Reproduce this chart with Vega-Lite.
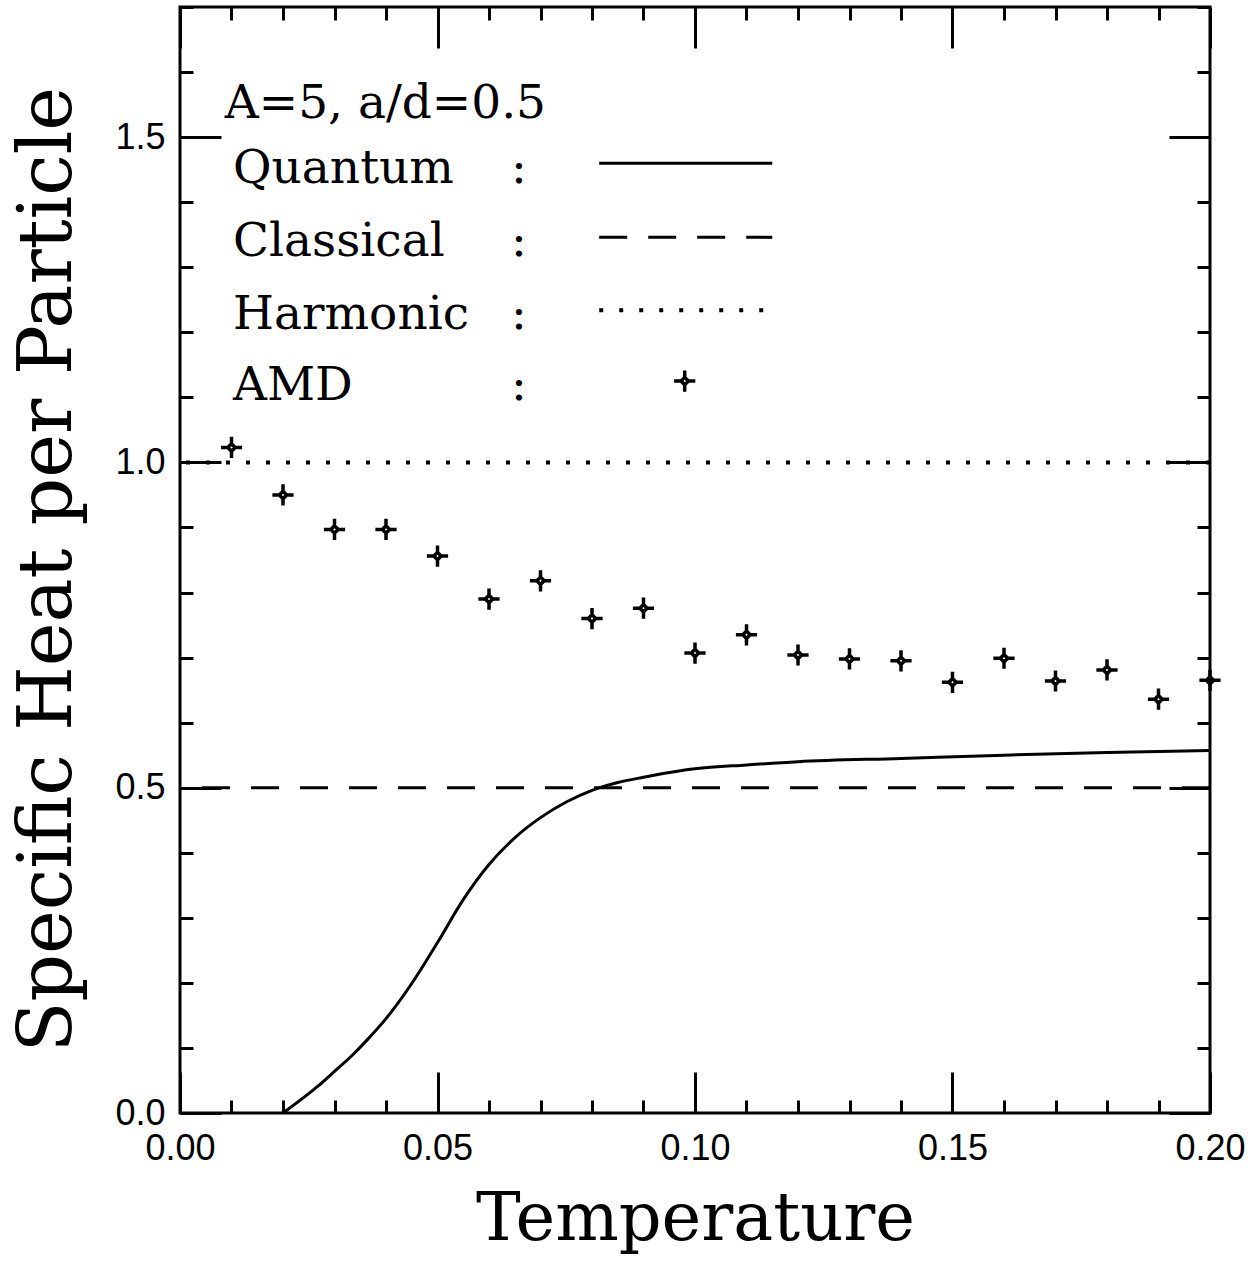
{
  "$schema": "https://vega.github.io/schema/vega-lite/v6.json",
  "width": 1030,
  "height": 1106,
  "autosize": {"type": "none"},
  "padding": {"left": 180, "top": 7, "right": 46, "bottom": 148},
  "background": "white",
  "config": {
    "view": {"stroke": "black", "strokeWidth": 3},
    "axis": {"grid": false, "domain": false, "tickColor": "black", "tickWidth": 3, "labelColor": "black", "titleColor": "black"},
    "text": {"font": "DejaVu Serif", "fontSize": 47, "color": "black", "baseline": "alphabetic"}
  },
  "datasets": {
    "one": [{}],
    "quantum": [
      {"t": 0.02, "c": 0.0}, {"t": 0.0266, "c": 0.04}, {"t": 0.03, "c": 0.064}, {"t": 0.0336, "c": 0.09},
      {"t": 0.0363, "c": 0.112}, {"t": 0.04, "c": 0.145}, {"t": 0.045, "c": 0.199}, {"t": 0.05, "c": 0.262},
      {"t": 0.055, "c": 0.328}, {"t": 0.06, "c": 0.382}, {"t": 0.065, "c": 0.423}, {"t": 0.07, "c": 0.454},
      {"t": 0.075, "c": 0.478}, {"t": 0.08, "c": 0.496}, {"t": 0.085, "c": 0.508}, {"t": 0.09, "c": 0.516},
      {"t": 0.10, "c": 0.529}, {"t": 0.11, "c": 0.535}, {"t": 0.12, "c": 0.540}, {"t": 0.14, "c": 0.545},
      {"t": 0.16, "c": 0.550}, {"t": 0.18, "c": 0.554}, {"t": 0.20, "c": 0.557}
    ],
    "amd": [
      {"t": 0.01, "c": 1.023}, {"t": 0.02, "c": 0.950}, {"t": 0.03, "c": 0.897}, {"t": 0.04, "c": 0.897},
      {"t": 0.05, "c": 0.856}, {"t": 0.06, "c": 0.790}, {"t": 0.07, "c": 0.818}, {"t": 0.08, "c": 0.760},
      {"t": 0.09, "c": 0.776}, {"t": 0.10, "c": 0.707}, {"t": 0.11, "c": 0.735}, {"t": 0.12, "c": 0.704},
      {"t": 0.13, "c": 0.698}, {"t": 0.14, "c": 0.695}, {"t": 0.15, "c": 0.662}, {"t": 0.16, "c": 0.699},
      {"t": 0.17, "c": 0.664}, {"t": 0.18, "c": 0.681}, {"t": 0.19, "c": 0.636}, {"t": 0.20, "c": 0.665}
    ]
  },
  "resolve": {"axis": {"x": "independent", "y": "independent"}},
  "layer": [
    {
      "data": {"name": "quantum"},
      "mark": {"type": "line", "color": "black", "strokeWidth": 3, "clip": true, "interpolate": "monotone"},
      "encoding": {
        "x": {
          "field": "t", "type": "quantitative",
          "scale": {"domain": [0, 0.2], "nice": false, "zero": false},
          "axis": {
            "orient": "bottom",
            "values": [0, 0.01, 0.02, 0.03, 0.04, 0.05, 0.06, 0.07, 0.08, 0.09, 0.1, 0.11, 0.12, 0.13, 0.14, 0.15, 0.16, 0.17, 0.18, 0.19, 0.2],
            "tickSize": {"condition": {"test": "abs(datum.value*20 - round(datum.value*20)) < 0.000001", "value": -41}, "value": -13},
            "labelExpr": "abs(datum.value*20 - round(datum.value*20)) < 0.000001 ? format(datum.value, '.2f') : ''",
            "labelPadding": 59,
            "labelFlush": false, "labelOverlap": false, "labelBound": false,
            "labelFont": "Liberation Sans", "labelFontSize": 36,
            "title": "Temperature", "titleFont": "DejaVu Serif", "titleFontSize": 67, "titleFontWeight": "normal",
            "titlePadding": -8
          }
        },
        "y": {
          "field": "c", "type": "quantitative",
          "scale": {"domain": [0, 1.7], "nice": false, "zero": false},
          "axis": {
            "orient": "left",
            "values": [0, 0.1, 0.2, 0.3, 0.4, 0.5, 0.6, 0.7, 0.8, 0.9, 1.0, 1.1, 1.2, 1.3, 1.4, 1.5, 1.6, 1.7],
            "tickSize": {"condition": {"test": "abs(datum.value*2 - round(datum.value*2)) < 0.000001", "value": -41}, "value": -13},
            "labelExpr": "abs(datum.value*2 - round(datum.value*2)) < 0.000001 ? format(datum.value, '.1f') : ''",
            "labelPadding": 56,
            "labelFlush": false, "labelOverlap": false, "labelBound": false,
            "labelFont": "Liberation Sans", "labelFontSize": 36,
            "title": "Specific Heat per Particle", "titleFont": "DejaVu Serif", "titleFontSize": 74, "titleFontWeight": "normal",
            "titlePadding": 28,
            "titleY": 562
          }
        }
      }
    },
    {
      "data": {"name": "amd"},
      "mark": {"type": "point", "shape": "M0,-1L0,-0.35M0,0.35L0,1M-1,0L-0.35,0M0.35,0L1,0M0,-0.35L0.35,0L0,0.35L-0.35,0Z", "size": 450, "stroke": "black", "strokeWidth": 3.5, "filled": false, "opacity": 1, "clip": false},
      "encoding": {
        "x": {
          "field": "t", "type": "quantitative",
          "axis": {
            "orient": "top",
            "values": [0, 0.01, 0.02, 0.03, 0.04, 0.05, 0.06, 0.07, 0.08, 0.09, 0.1, 0.11, 0.12, 0.13, 0.14, 0.15, 0.16, 0.17, 0.18, 0.19, 0.2],
            "tickSize": {"condition": {"test": "abs(datum.value*20 - round(datum.value*20)) < 0.000001", "value": -41}, "value": -13},
            "labels": false, "title": null
          }
        },
        "y": {
          "field": "c", "type": "quantitative",
          "axis": {
            "orient": "right",
            "values": [0, 0.1, 0.2, 0.3, 0.4, 0.5, 0.6, 0.7, 0.8, 0.9, 1.0, 1.1, 1.2, 1.3, 1.4, 1.5, 1.6, 1.7],
            "tickSize": {"condition": {"test": "abs(datum.value*2 - round(datum.value*2)) < 0.000001", "value": -41}, "value": -13},
            "labels": false, "title": null
          }
        }
      }
    },
    {
      "data": {"name": "one"},
      "mark": {"type": "rule", "color": "black", "strokeWidth": 3, "strokeDash": [28, 21]},
      "encoding": {"y": {"datum": 0.5, "type": "quantitative", "axis": null}}
    },
    {
      "data": {"name": "one"},
      "mark": {"type": "rule", "color": "black", "strokeWidth": 4, "strokeDash": [4, 16]},
      "encoding": {"y": {"datum": 1.0, "type": "quantitative", "axis": null}}
    },
    {
      "data": {"name": "one"},
      "mark": {"type": "text", "text": "A=5, a/d=0.5", "align": "left"},
      "encoding": {"x": {"datum": 0.0087, "type": "quantitative", "axis": null}, "y": {"datum": 1.529, "type": "quantitative", "axis": null}}
    },
    {
      "data": {"name": "one"},
      "mark": {"type": "text", "text": "Quantum", "align": "left"},
      "encoding": {"x": {"datum": 0.0103, "type": "quantitative", "axis": null}, "y": {"datum": 1.429, "type": "quantitative", "axis": null}}
    },
    {
      "data": {"name": "one"},
      "mark": {"type": "text", "text": "Classical", "align": "left"},
      "encoding": {"x": {"datum": 0.0103, "type": "quantitative", "axis": null}, "y": {"datum": 1.317, "type": "quantitative", "axis": null}}
    },
    {
      "data": {"name": "one"},
      "mark": {"type": "text", "text": "Harmonic", "align": "left"},
      "encoding": {"x": {"datum": 0.0103, "type": "quantitative", "axis": null}, "y": {"datum": 1.205, "type": "quantitative", "axis": null}}
    },
    {
      "data": {"name": "one"},
      "mark": {"type": "text", "text": "AMD", "align": "left"},
      "encoding": {"x": {"datum": 0.0103, "type": "quantitative", "axis": null}, "y": {"datum": 1.096, "type": "quantitative", "axis": null}}
    },
    {
      "data": {"name": "one"},
      "mark": {"type": "text", "text": ":", "align": "center"},
      "encoding": {"x": {"datum": 0.0658, "type": "quantitative", "axis": null}, "y": {"datum": 1.429, "type": "quantitative", "axis": null}}
    },
    {
      "data": {"name": "one"},
      "mark": {"type": "text", "text": ":", "align": "center"},
      "encoding": {"x": {"datum": 0.0658, "type": "quantitative", "axis": null}, "y": {"datum": 1.317, "type": "quantitative", "axis": null}}
    },
    {
      "data": {"name": "one"},
      "mark": {"type": "text", "text": ":", "align": "center"},
      "encoding": {"x": {"datum": 0.0658, "type": "quantitative", "axis": null}, "y": {"datum": 1.205, "type": "quantitative", "axis": null}}
    },
    {
      "data": {"name": "one"},
      "mark": {"type": "text", "text": ":", "align": "center"},
      "encoding": {"x": {"datum": 0.0658, "type": "quantitative", "axis": null}, "y": {"datum": 1.096, "type": "quantitative", "axis": null}}
    },
    {
      "data": {"name": "one"},
      "mark": {"type": "rule", "color": "black", "strokeWidth": 3},
      "encoding": {"x": {"datum": 0.0814, "type": "quantitative", "axis": null}, "x2": {"datum": 0.115}, "y": {"datum": 1.46, "type": "quantitative", "axis": null}}
    },
    {
      "data": {"name": "one"},
      "mark": {"type": "rule", "color": "black", "strokeWidth": 3, "strokeDash": [28, 21]},
      "encoding": {"x": {"datum": 0.0814, "type": "quantitative", "axis": null}, "x2": {"datum": 0.115}, "y": {"datum": 1.346, "type": "quantitative", "axis": null}}
    },
    {
      "data": {"name": "one"},
      "mark": {"type": "rule", "color": "black", "strokeWidth": 4, "strokeDash": [4, 16]},
      "encoding": {"x": {"datum": 0.0814, "type": "quantitative", "axis": null}, "x2": {"datum": 0.115}, "y": {"datum": 1.234, "type": "quantitative", "axis": null}}
    },
    {
      "data": {"name": "one"},
      "mark": {"type": "point", "shape": "M0,-1L0,-0.35M0,0.35L0,1M-1,0L-0.35,0M0.35,0L1,0M0,-0.35L0.35,0L0,0.35L-0.35,0Z", "size": 450, "stroke": "black", "strokeWidth": 3.5, "filled": false, "opacity": 1},
      "encoding": {"x": {"datum": 0.098, "type": "quantitative", "axis": null}, "y": {"datum": 1.125, "type": "quantitative", "axis": null}}
    }
  ]
}
